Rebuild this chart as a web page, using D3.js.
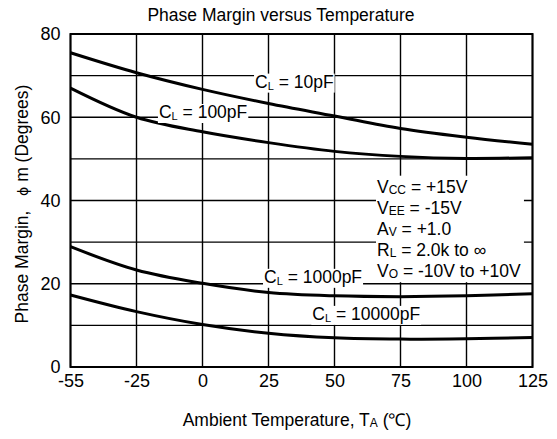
<!DOCTYPE html>
<html>
<head>
<meta charset="utf-8">
<script src="https://cdn.jsdelivr.net/npm/d3@7"></script>
<style>
  html, body { margin: 0; padding: 0; background: #fff; }
  svg { display: block; font-family: "Liberation Sans", Arial, Helvetica, sans-serif; }
</style>
</head>
<body>
<svg id="chart" width="557" height="439"></svg>
<script>
// ---- data ----
const temps = [-55, -25, 0, 25, 50, 75, 100, 125];
const yTicks = [0, 20, 40, 60, 80];
const yGrid = [0, 10, 20, 30, 40, 50, 60, 70, 80];
const cl10    = [75.5, 70.7, 66.7, 63.3, 60.3, 57.3, 55.2, 53.5];
const cl100   = [67.0, 60.0, 56.5, 53.9, 51.8, 50.6, 50.1, 50.3];
const cl1000  = [28.9, 23.3, 20.1, 17.9, 17.1, 16.9, 17.1, 17.6];
const cl10000 = [17.3, 13.3, 10.2, 8.1, 7.0, 6.7, 6.8, 7.1];
const seriesNames = ["10pF", "100pF", "1000pF", "10000pF"];
const seriesValues = [cl10, cl100, cl1000, cl10000];
const title = "Phase Margin versus Temperature";
const conditions = [
  ["V", "CC", " = +15V"],
  ["V", "EE", " = -15V"],
  ["A", "V", " = +1.0"],
  ["R", "L", " = 2.0k to \u221E"],
  ["V", "O", " = -10V to +10V"]
];

// ---- layout ----
const pL = 70.5, pR = 532.5, pT = 34, pB = 367;
const FS = 17.5;
const svg = d3.select("#chart");

const step = (pR - pL) / (temps.length - 1);
const x = d3.scaleLinear().domain(temps).range(temps.map((d, i) => pL + i * step));
const y = d3.scaleLinear().domain([0, 80]).range([pB, pT]);

// grid
const g = svg.append("g");
g.selectAll("line.v").data(temps).join("line")
  .attr("x1", d => x(d)).attr("x2", d => x(d))
  .attr("y1", pT).attr("y2", pB)
  .attr("stroke", "#000").attr("stroke-width", 1.4);
g.selectAll("line.h").data(yGrid).join("line")
  .attr("x1", pL).attr("x2", pR)
  .attr("y1", d => y(d)).attr("y2", d => y(d))
  .attr("stroke", "#000").attr("stroke-width", 1.4);
svg.append("rect").attr("x", pL).attr("y", pT)
  .attr("width", pR - pL).attr("height", pB - pT)
  .attr("fill", "none").attr("stroke", "#000").attr("stroke-width", 2);

// axes (labels only)
const xAxis = svg.append("g").attr("transform", `translate(0,${pB})`)
  .call(d3.axisBottom(x).tickValues(temps).tickSize(0).tickPadding(7).tickFormat(d => String(d)));
xAxis.select(".domain").remove();
xAxis.selectAll("text").attr("font-size", 18).attr("fill", "#000")
  .attr("font-family", "Liberation Sans, Arial, sans-serif");

const yAxis = svg.append("g").attr("transform", `translate(${pL},0)`)
  .call(d3.axisLeft(y).tickValues(yTicks).tickSize(0).tickPadding(10).tickFormat(d => String(d)));
yAxis.select(".domain").remove();
yAxis.selectAll("text").attr("font-size", 18).attr("fill", "#000")
  .attr("font-family", "Liberation Sans, Arial, sans-serif");

// curves
const line = d3.line().x((d, i) => x(temps[i])).y(d => y(d)).curve(d3.curveCatmullRom.alpha(0.5));
svg.selectAll("path.curve").data(seriesValues).join("path")
  .attr("class", "curve")
  .attr("d", d => line(d))
  .attr("fill", "none").attr("stroke", "#000").attr("stroke-width", 3);

// curve labels: position (temperature, value at baseline)
const labelPos = [
  { t: 19.9, v: 67.0 },
  { t: -16.5, v: 59.7 },
  { t: 23.3, v: 20.1 },
  { t: 41.6, v: 11.2 }
];
seriesNames.forEach((name, i) => {
  const lg = svg.append("g");
  const txt = lg.append("text")
    .attr("x", x(labelPos[i].t)).attr("y", y(labelPos[i].v))
    .attr("font-size", FS).attr("fill", "#000");
  txt.append("tspan").text("C");
  txt.append("tspan").text("L").attr("font-size", 11).attr("dy", 2);
  txt.append("tspan").text(" = " + name).attr("dy", -2);
  const bb = txt.node().getBBox();
  lg.insert("rect", "text")
    .attr("x", bb.x - 1).attr("y", bb.y + 1.5)
    .attr("width", bb.width + 2).attr("height", bb.height - 1)
    .attr("fill", "#fff");
});

// conditions box
const cg = svg.append("g");
const condX = 377, condY0 = 192.7, condStep = 21;
conditions.forEach((c, i) => {
  const t = cg.append("text").attr("x", condX).attr("y", condY0 + i * condStep)
    .attr("font-size", FS).attr("fill", "#000");
  t.append("tspan").text(c[0]);
  t.append("tspan").text(c[1]).attr("font-size", 12).attr("dy", 1.5);
  t.append("tspan").text(c[2]).attr("dy", -1.5);
});
const cbb = cg.node().getBBox();
cg.insert("rect", "text")
  .attr("x", cbb.x - 1).attr("y", cbb.y - 1)
  .attr("width", cbb.width + 4).attr("height", cbb.height + 2)
  .attr("fill", "#fff");

// title
svg.append("text").attr("x", 281).attr("y", 21).attr("text-anchor", "middle")
  .attr("font-size", FS).attr("fill", "#000").text(title);

// x axis title
const xt = svg.append("text").attr("x", 297).attr("y", 426).attr("text-anchor", "middle")
  .attr("font-size", FS).attr("fill", "#000");
xt.append("tspan").text("Ambient Temperature, T");
xt.append("tspan").text("A").attr("font-size", 12).attr("dy", 1);
xt.append("tspan").text(" (\u2103)").attr("dy", -1);

// y axis title
const yt = svg.append("text")
  .attr("transform", `translate(28,204) rotate(-90)`)
  .attr("text-anchor", "middle").attr("font-size", FS).attr("fill", "#000");
yt.append("tspan").text("Phase Margin,\u00A0\u00A0\u00A0");
yt.append("tspan").text("\u03D5").attr("font-size", 14).attr("font-family", "DejaVu Sans");
yt.append("tspan").text("\u00A0m (Degrees)");
</script>
</body>
</html>
